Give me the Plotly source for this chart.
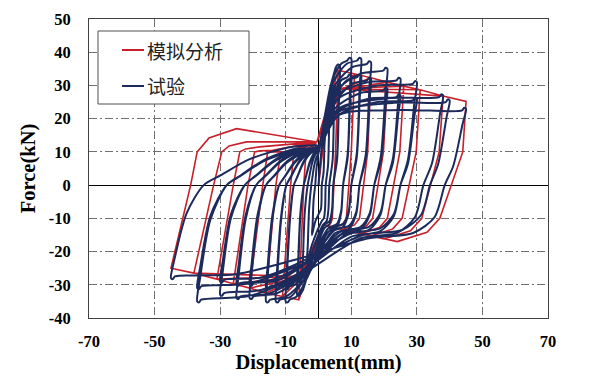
import plotly.graph_objects as go

# ---------------- axis ticks ----------------
x_ticks = [-70, -50, -30, -10, 10, 30, 50, 70]
y_ticks = [-40, -30, -20, -10, 0, 10, 20, 30, 40, 50]

# ---------------- simulation (red) cycles ----------------
red_amp = [6, 11, 16, 21, 26, 31, 38, 45]
red_pos_force = [34.5, 33.5, 32.3, 31.0, 29.8, 28.7, 26.8, 25.2]
red_neg_force = [-34.5, -33.5, -32.5, -31.0, -29.7, -28.3, -26.5, -25.0]
red_pos_knee_x = [3.0, 3.5, 4.0, 4.5, 5.0, 5.5, 6.0, 6.5]
red_pos_knee_y = [24, 26, 27, 28, 28.5, 29, 29, 29]
red_pos_unl10_x = [5.2, 10, 15, 19.8, 24.8, 29.8, 36.8, 44]
red_pos_unlm10_x = [4.2, 8.5, 12.5, 16.5, 21, 25.5, 31.5, 37]
red_pos_trough_x = [3, 5, 7.5, 10, 13, 16, 20, 24]
red_pos_trough_y = [-12.2, -12.7, -13.3, -14, -14.6, -15.3, -16.2, -17]
red_neg_knee_x = [-2.5, -3, -3.5, -4, -4.5, -5, -5.5, -6]
red_neg_knee_y = [-24, -25.5, -26.5, -27, -27.5, -27.5, -27.5, -27.5]
red_neg_unl0_x = [-4.5, -8.5, -13, -17, -21.5, -26, -32, -39]
red_neg_unl10_x = [-3.8, -7.5, -11.5, -15.5, -19.5, -24, -29.5, -37]
red_neg_crest_x = [-2.5, -4.5, -7.5, -10, -14, -18, -22, -25]
red_neg_crest_y = [10.5, 10, 10, 10, 10.5, 11.5, 13, 17]
red_pinch = [(-0.5, 13.0), (1.5, -12.0)]

# ---------------- test (navy) cycles ----------------
navy_pos_amp = [2, 3.5, 5, 6.5, 6.5, 10, 10, 13, 13, 16, 16, 21, 21, 25, 25, 30, 30, 38, 40, 45]
navy_pos_force = [15, 24, 30, 36, 31, 38, 33, 38, 33, 37, 32, 35, 29, 32, 27, 31, 26, 27, 25.5, 23]
navy_pos_knee_x = [1, 2, 3, 3.5, 3.5, 4, 4, 4.5, 4.5, 5, 5, 5, 5, 5.5, 5.5, 6, 6, 6, 6, 6]
navy_pos_knee_y = [11, 18, 24, 29, 25, 31, 26, 31, 26, 30, 25, 28, 23, 27, 22, 26, 21, 23, 22, 21]
navy_pos_zero_x = [1.0, 2.2, 3.3, 4.5, 4.5, 7.5, 7.5, 10, 10, 12.5, 12.5, 17, 17, 20.5, 20.5, 25, 25, 32, 34, 38.5]
navy_pos_trough_y = [-8, -11, -12, -13, -12, -14, -13, -14, -13, -14.5, -13.5, -15, -14, -15, -14, -15.5, -14.5, -16, -15, -16]
navy_neg_amp = [2, 3.5, 5, 6.5, 6.5, 10, 10, 13, 13, 16, 16, 21, 21, 25, 25, 30, 30, 37, 37, 45]
navy_neg_force = [-15, -23, -28, -33, -29, -35, -31, -35, -31, -35, -31, -34, -30, -34, -30, -33, -29, -35, -31, -28]
navy_neg_knee_x = [-1, -2, -2.5, -3, -3, -3.5, -3.5, -4, -4, -4, -4, -4.5, -4.5, -5, -5, -5, -5, -5.5, -5.5, -5.5]
navy_neg_knee_y = [-11, -18, -22, -26, -23, -28, -25, -28, -25, -28, -25, -27, -24, -27, -24, -26, -23, -27, -24, -22]
navy_neg_zero_x = [-1, -2.2, -3.3, -4.5, -4.5, -7.5, -7.5, -9.8, -9.8, -12, -12, -16, -16, -19, -19, -22.5, -22.5, -28, -28, -35]
navy_neg_crest_y = [8, 9, 10, 10.5, 10, 11, 10.5, 11, 10.5, 11, 10.5, 11, 10.5, 11.5, 11, 11.5, 11, 11.5, 11, 12]

RED = "#C8202A"
NAVY = "#1C2B5C"


def build_red():
    xs, ys = [0.0], [0.0]
    for i, A in enumerate(red_amp):
        if i > 0:
            xs.append(red_pinch[0][0]); ys.append(red_pinch[0][1])
        xs.append(red_pos_knee_x[i]); ys.append(red_pos_knee_y[i])
        if i > 0:
            xs.append(red_amp[i - 1]); ys.append(red_pos_force[i - 1])
        xs.append(A); ys.append(red_pos_force[i])
        xs.append(red_pos_unl10_x[i]); ys.append(10)
        xs.append(red_pos_unlm10_x[i]); ys.append(-10)
        tx, ty = red_pos_trough_x[i], red_pos_trough_y[i]
        m = red_pos_unlm10_x[i]
        xs.append(m + 0.3 * (tx - m)); ys.append(-10 + 0.6 * (ty + 10))
        xs.append(tx); ys.append(ty)
        xs.append(red_pinch[1][0]); ys.append(red_pinch[1][1])
        xs.append(red_neg_knee_x[i]); ys.append(red_neg_knee_y[i])
        if i > 0:
            xs.append(-red_amp[i - 1]); ys.append(red_neg_force[i - 1])
        xs.append(-A); ys.append(red_neg_force[i])
        xs.append(red_neg_unl0_x[i]); ys.append(0)
        xs.append(red_neg_unl10_x[i]); ys.append(10)
        cx, cy = red_neg_crest_x[i], red_neg_crest_y[i]
        u = red_neg_unl10_x[i]
        xs.append(u + 0.3 * (cx - u)); ys.append(10 + 0.6 * (cy - 10))
        xs.append(cx); ys.append(cy)
    xs.append(red_pinch[0][0]); ys.append(red_pinch[0][1])
    return xs, ys


def build_navy():
    xs, ys = [0.0], [0.0]
    for i in range(len(navy_pos_amp)):
        A, F = navy_pos_amp[i], navy_pos_force[i]
        kx, ky = navy_pos_knee_x[i], navy_pos_knee_y[i]
        xs.append(kx); ys.append(ky)
        if A > kx + 1.5:
            xs.append((kx + A) / 2); ys.append(ky + 0.8 * (F - ky))
        if A >= 6.5:
            xs += [A - 1.2, A - 0.6]; ys += [F - 0.5, F + 0.3]
        xs.append(A); ys.append(F)
        z, T = navy_pos_zero_x[i], navy_pos_trough_y[i]
        xs += [A - 0.02 * A - 0.15, A - 0.08 * A - 0.3, z, 0.92 * z, 0.75 * z, 0.4 * z]
        ys += [0.8 * F, 0.25 * F, 0, 0.6 * T, 0.9 * T, T]
        An, Fn = navy_neg_amp[i], navy_neg_force[i]
        kx, ky = navy_neg_knee_x[i], navy_neg_knee_y[i]
        xs.append(kx); ys.append(ky)
        if An > -kx + 1.5:
            xs.append((kx - An) / 2); ys.append(ky + 0.8 * (Fn - ky))
        if An >= 6.5:
            xs += [-An + 1.2, -An + 0.6]; ys += [Fn + 0.5, Fn - 0.3]
        xs.append(-An); ys.append(Fn)
        zn, C = navy_neg_zero_x[i], navy_neg_crest_y[i]
        xs += [-An + 0.02 * An + 0.15, -An + 0.1 * An + 0.3, zn, 0.85 * zn, 0.6 * zn, 0.25 * zn, -0.3]
        ys += [0.8 * Fn, 0.3 * Fn, 0, 0.25 * C, 0.65 * C, 0.95 * C, C]
    return xs, ys


rx, ry = build_red()
nx, ny = build_navy()

fig = go.Figure()
fig.add_trace(go.Scatter(x=rx, y=ry, mode="lines", name="模拟分析",
                         line=dict(color=RED, width=1.6), showlegend=False))
fig.add_trace(go.Scatter(x=nx, y=ny, mode="lines", name="试验",
                         line=dict(color=NAVY, width=2, shape="spline", smoothing=0.8),
                         showlegend=False))

serif_bold = dict(family="Liberation Serif", size=16.5, color="black", weight="bold")

fig.update_xaxes(range=[-70, 70], tickvals=x_ticks, ticktext=[str(v) for v in x_ticks],
                 showgrid=True, gridcolor="#707070", griddash="8px,3px,2px,3px", gridwidth=1,
                 zeroline=True, zerolinecolor="black", zerolinewidth=1,
                 showline=True, linecolor="#404040", linewidth=1, mirror=True,
                 ticks="", tickfont=serif_bold, ticklabelstandoff=8,
                 title=dict(text="Displacement(mm)", standoff=3,
                            font=dict(family="Liberation Serif", size=20.5, color="black", weight="bold")))
fig.update_yaxes(range=[-40, 50], tickvals=y_ticks, ticktext=[str(v) for v in y_ticks],
                 showgrid=True, gridcolor="#707070", griddash="8px,3px,2px,3px", gridwidth=1,
                 zeroline=True, zerolinecolor="black", zerolinewidth=1,
                 showline=True, linecolor="#404040", linewidth=1, mirror=True,
                 ticks="", tickfont=serif_bold, ticklabelstandoff=14,
                 title=dict(text="Force(kN)", standoff=7,
                            font=dict(family="Liberation Serif", size=20.5, color="black", weight="bold")))

# legend box drawn in paper coordinates
def px2paper_x(px):
    return (px - 89) / 459.0

def px2paper_y(py):
    return (318 - py) / 299.0

legend_labels = ["模拟分析", "试验"]
legend_colors = [RED, NAVY]
legend_rows = [50, 86]

shapes = [dict(type="rect", xref="paper", yref="paper",
               x0=px2paper_x(98), x1=px2paper_x(249), y0=px2paper_y(104), y1=px2paper_y(31),
               line=dict(color="#505050", width=1), fillcolor="white", layer="above")]
annotations = []
for lab, col, row in zip(legend_labels, legend_colors, legend_rows):
    shapes.append(dict(type="line", xref="paper", yref="paper",
                       x0=px2paper_x(122), x1=px2paper_x(144), y0=px2paper_y(row), y1=px2paper_y(row),
                       line=dict(color=col, width=2), layer="above"))
    annotations.append(dict(xref="paper", yref="paper", x=px2paper_x(145), y=px2paper_y(row),
                            text=lab, showarrow=False, xanchor="left", yanchor="middle",
                            font=dict(family="Noto Sans CJK SC", size=19, color="#222222")))

# page body has an 8px default margin, so the figure is sized to fit the 593x389 window
fig.update_layout(width=585, height=381, margin=dict(l=81, r=45, t=11, b=71, autoexpand=False),
                  paper_bgcolor="white", plot_bgcolor="white",
                  shapes=shapes, annotations=annotations)

fig.write_html("out.html")
